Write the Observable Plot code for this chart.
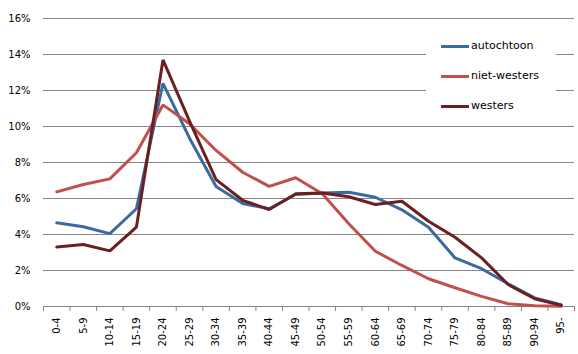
<!DOCTYPE html>
<html>
<head>
<meta charset="utf-8">
<script src="https://cdn.jsdelivr.net/npm/d3@7"></script>
<script src="https://cdn.jsdelivr.net/npm/@observablehq/plot@0.6"></script>
<style>
  html, body { margin: 0; padding: 0; background: #fff; }
  #wrap { position: relative; width: 578px; height: 354px; }
  .legend-box { position: absolute; left: 426px; top: 27px; width: 130px; height: 95px; background: #fff; }
  .sw { position: absolute; left: 441px; width: 28px; height: 3px; }
  .lt { position: absolute; left: 471px; font: 11px "DejaVu Sans", sans-serif; line-height: 13px; color: #000; white-space: nowrap; }
</style>
</head>
<body>
<div id="wrap"></div>
<script>
const categories = ["0-4","5-9","10-14","15-19","20-24","25-29","30-34","35-39","40-44","45-49","50-54","55-59","60-64","65-69","70-74","75-79","80-84","85-89","90-94","95-"];
const autochtoon = [4.65,4.43,4.05,5.43,12.4,9.35,6.67,5.72,5.43,6.22,6.3,6.35,6.07,5.37,4.4,2.7,2.1,1.26,0.48,0.1];
const nietWesters = [6.37,6.78,7.09,8.54,11.2,10.15,8.67,7.46,6.67,7.15,6.26,4.6,3.07,2.28,1.54,1.04,0.56,0.15,0.04,0.01];
const westers = [3.3,3.44,3.09,4.41,13.7,10.3,7.05,5.9,5.39,6.26,6.3,6.1,5.67,5.85,4.74,3.85,2.7,1.22,0.43,0.06];
const seriesNames = ["autochtoon","niet-westers","westers"];
const seriesColors = ["#3b6a9f","#c0504d","#6a1f20"];
const yTicks = [0,2,4,6,8,10,12,14,16];

const seriesValues = [autochtoon, nietWesters, westers];
const data = seriesNames.flatMap((name, s) => categories.map((c, i) => ({i, v: seriesValues[s][i], name})));
const idx = categories.map((c, i) => i);
const bounds = categories.map((c, i) => i - 0.5).concat([categories.length - 0.5]);

const chart = Plot.plot({
  width: 578, height: 354,
  marginLeft: 43, marginRight: 4, marginTop: 18, marginBottom: 48,
  x: {type: "linear", domain: [-0.5, categories.length - 0.5], label: null},
  y: {domain: [0, 16], label: null},
  color: {domain: seriesNames, range: seriesColors},
  style: {fontFamily: "DejaVu Sans, sans-serif", fontSize: "10px", color: "#000", background: "#fff"},
  marks: [
    Plot.gridY(yTicks, {stroke: "#868686", strokeOpacity: 1, strokeWidth: 1}),
    Plot.axisY(yTicks, {tickSize: 0, tickPadding: 13, tickFormat: d => d + "%", label: null}),
    Plot.axisX(bounds, {tickSize: 5, tickFormat: () => "", stroke: "#868686", label: null}),
    Plot.axisX(idx, {tickSize: 0, tickPadding: 11, tickRotate: -90, tickFormat: i => categories[i], label: null}),
    Plot.lineY(data, {x: "i", y: "v", z: "name", stroke: "name", strokeWidth: 3, strokeLinejoin: "miter"})
  ]
});
const wrap = document.getElementById("wrap");
wrap.appendChild(chart);

const box = document.createElement("div");
box.className = "legend-box";
wrap.appendChild(box);
const ys = [46, 76, 106];
seriesNames.forEach((name, k) => {
  const sw = document.createElement("div");
  sw.className = "sw";
  sw.style.top = (ys[k] - 1.5) + "px";
  sw.style.background = seriesColors[k];
  wrap.appendChild(sw);
  const t = document.createElement("div");
  t.className = "lt";
  t.style.top = (ys[k] - 7) + "px";
  t.textContent = name;
  wrap.appendChild(t);
});
</script>
</body>
</html>
